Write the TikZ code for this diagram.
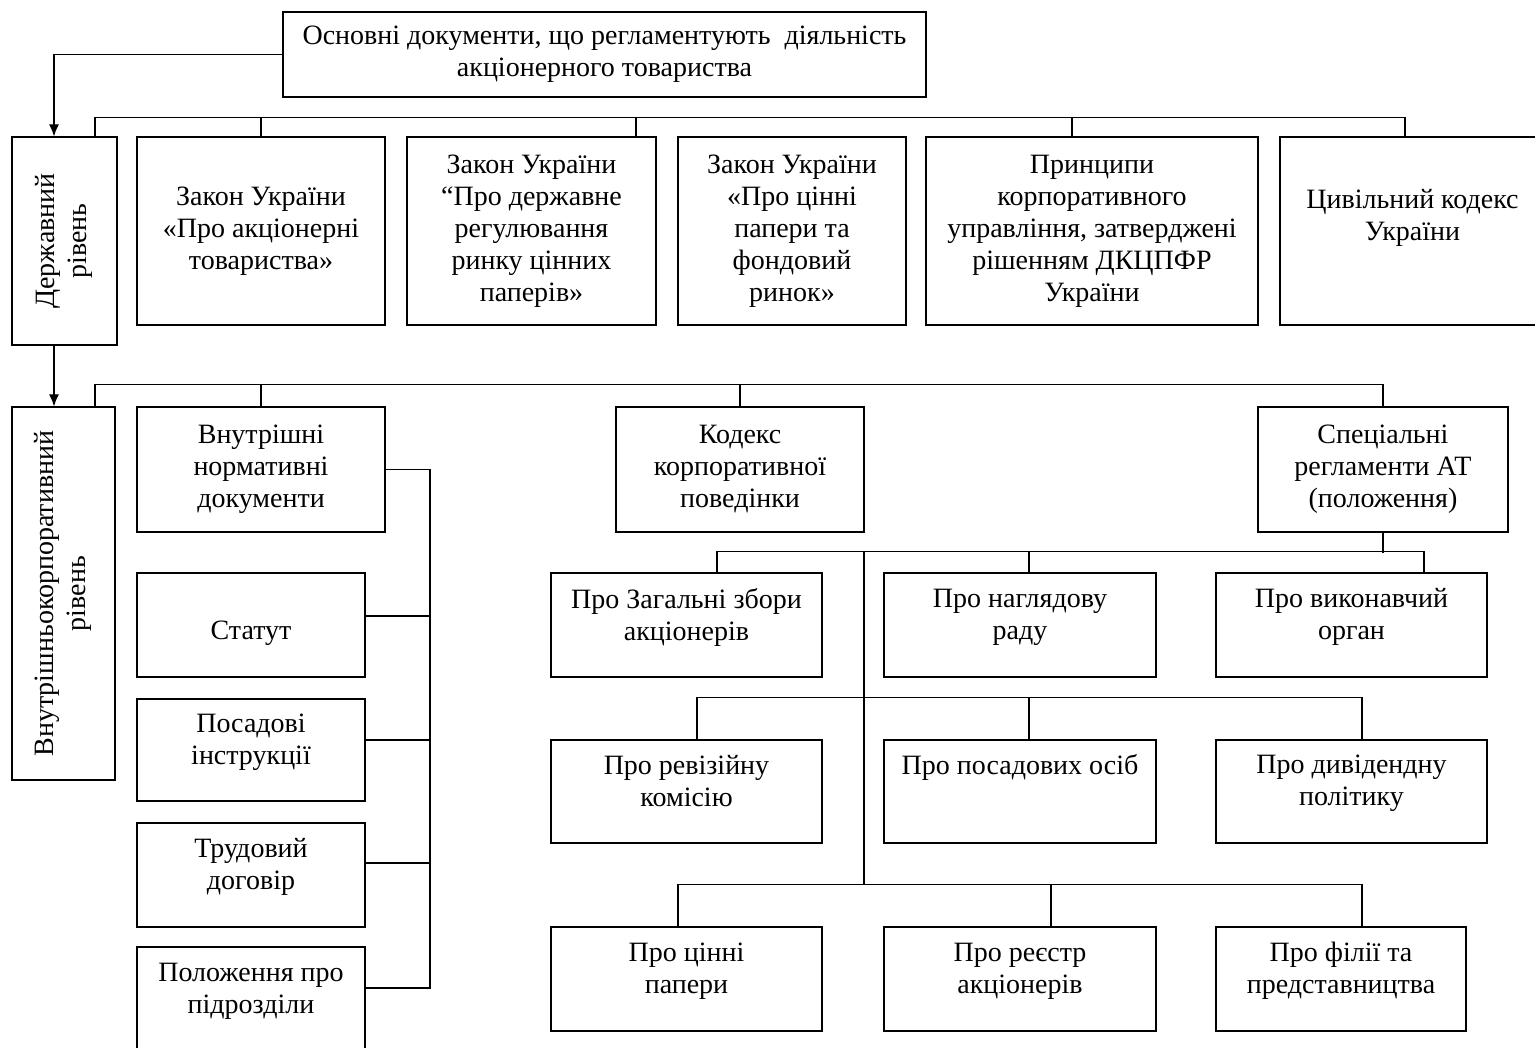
\documentclass[tikz,border=0pt]{standalone}
\usepackage{fontspec}
\setmainfont{Liberation Serif}
\usetikzlibrary{arrows.meta}

\begin{document}
\begin{tikzpicture}[x=1pt, y=-1pt, line width=1.2pt,
    box/.style={draw, rectangle, align=center, inner sep=2pt, font=\fontsize{28}{32}\selectfont},
    lift/.style={text depth=22pt},
    tip/.style={-{Latex[length=12pt, width=10pt]}}]
        \useasboundingbox (0,0) rectangle (1535,1048);
        \node[box, minimum width=643pt, minimum height=85pt] (top) at (604.5,54.5) {Основні документи, що регламентують \ діяльність\\акціонерного товариства};
        % державний рівень
        \node[box, minimum width=105pt, minimum height=208pt] (derzh) at (64.5,241) {\rotatebox{90}{\begin{tabular}{@{}c@{}}Державний\\рівень\end{tabular}}};
        \node[box, minimum width=248pt, minimum height=188pt] (zak1) at (261,231) {Закон України\\«Про акціонерні\\товариства»};
        \node[box, minimum width=249pt, minimum height=188pt] (zak2) at (531.5,231) {Закон України\\“Про державне\\регулювання\\ринку цінних\\паперів»};
        \node[box, minimum width=228pt, minimum height=188pt] (zak3) at (792,231) {Закон України\\«Про цінні\\папери та\\фондовий\\ринок»};
        \node[box, minimum width=332pt, minimum height=188pt] (princ) at (1092,231) {Принципи\\корпоративного\\управління, затверджені\\рішенням ДКЦПФР\\України};
        \node[box, minimum width=265pt, minimum height=188pt] (civil) at (1412.5,231) {Цивільний кодекс\\України\\~};
        % внутрішньокорпоративний рівень
        \node[box, minimum width=103pt, minimum height=373pt] (vnutr) at (63.5,593.5) {\rotatebox{90}{\begin{tabular}{@{}c@{}}Внутрішньокорпоративний\\рівень\end{tabular}}};
        \node[box, minimum width=248pt, minimum height=125pt] (norm) at (261,469.5) {Внутрішні\\нормативні\\документи};
        \node[box, minimum width=248pt, minimum height=125pt] (kodeks) at (740,469.5) {Кодекс\\корпоративної\\поведінки};
        \node[box, minimum width=250pt, minimum height=125pt] (spec) at (1383,469.5) {Спеціальні\\регламенти АТ\\(положення)};
        \node[box, text height=36pt, minimum width=228pt, minimum height=104pt] (statut) at (251,625) {Статут};
        \node[box, lift, minimum width=228pt, minimum height=102pt] (posad) at (251,750) {Посадові\\інструкції};
        \node[box, lift, minimum width=228pt, minimum height=104pt] (trud) at (251,875) {Трудовий\\договір};
        \node[box, lift, minimum width=228pt, minimum height=105pt] (polozh) at (251,999.5) {Положення про\\підрозділи};
        \node[box, lift, minimum width=271pt, minimum height=104pt] (zbory) at (686.5,625) {Про Загальні збори\\акціонерів};
        \node[box, lift, minimum width=272pt, minimum height=104pt] (rada) at (1020,625) {Про наглядову\\раду};
        \node[box, lift, minimum width=271pt, minimum height=104pt] (vykon) at (1351.5,625) {Про виконавчий\\орган};
        \node[box, lift, minimum width=271pt, minimum height=103pt] (reviz) at (686.5,791.5) {Про ревізійну\\комісію};
        \node[box, lift, minimum width=272pt, minimum height=103pt] (osoby) at (1020,791.5) {Про посадових осіб\\~};
        \node[box, lift, minimum width=271pt, minimum height=103pt] (dyvid) at (1351.5,791.5) {Про дивідендну\\політику};
        \node[box, lift, minimum width=271pt, minimum height=104pt] (papery) at (686.5,979) {Про цінні\\папери};
        \node[box, lift, minimum width=272pt, minimum height=104pt] (reestr) at (1020,979) {Про реєстр\\акціонерів};
        \node[box, lift, minimum width=250pt, minimum height=104pt] (filii) at (1341,979) {Про філії та\\представництва};
        \coordinate (hubtop) at (864,552);
        \coordinate (hubbot) at (864,885);
        \coordinate (vbus) at (430,988);
        % зв'язки
        \draw[tip] (top.west) -| ([xshift=-10.5pt]derzh.north);
        \draw ([xshift=30.5pt]derzh.north) -- ++(0,-19) -| ([xshift=-7.5pt]civil.north);
        \draw (zak1.north) -- ++(0,-19);
        \draw ([xshift=104.5pt]zak2.north) -- ++(0,-19);
        \draw ([xshift=-20pt]princ.north) -- ++(0,-19);
        \draw[tip] ([xshift=-10.5pt]derzh.south) -- ([xshift=-9.5pt]vnutr.north);
        \draw ([xshift=31.5pt]vnutr.north) -- ++(0,-22) -| (spec.north);
        \draw (norm.north) -- ++(0,-22);
        \draw (kodeks.north) -- ++(0,-22);
        \draw (norm.east) -| (vbus) -- ([yshift=11.5pt]polozh.east);
        \draw ([yshift=9pt]statut.east) -- ++(65,0);
        \draw ([yshift=10pt]posad.east) -- ++(65,0);
        \draw ([yshift=12pt]trud.east) -- ++(65,0);
        \draw (spec.south) -- ++(0,20);
        \draw ([xshift=30.5pt]zbory.north) -- ++(0,-21) -| ([xshift=72.5pt]vykon.north);
        \draw ([xshift=9pt]rada.north) -- ++(0,-21);
        \draw (hubtop) -- (hubbot);
        \draw ([xshift=10.5pt]reviz.north) -- ++(0,-42) -| ([xshift=10.5pt]dyvid.north);
        \draw ([xshift=9pt]osoby.north) -- ++(0,-42);
        \draw ([xshift=-8.5pt]papery.north) -- ++(0,-42) -| ([xshift=21pt]filii.north);
        \draw ([xshift=31pt]reestr.north) -- ++(0,-42);
    \end{tikzpicture}
\end{document}
